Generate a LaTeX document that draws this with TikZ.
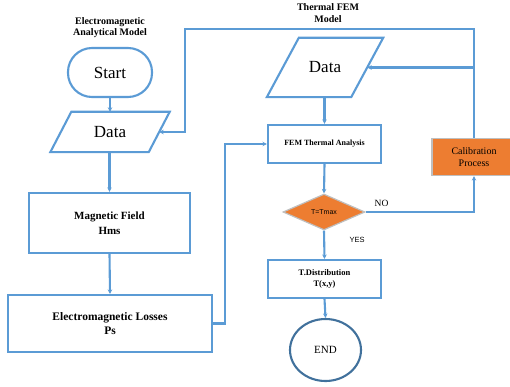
\documentclass[tikz,border=0pt]{standalone}
\usepackage{fontspec}
\setmainfont{Liberation Serif}
\newfontfamily\arialf{Liberation Sans}
\usetikzlibrary{shapes.geometric,arrows.meta,calc}
\definecolor{lineblue}{HTML}{5B9BD5}
\definecolor{darkblue}{HTML}{41719C}
\definecolor{orangef}{HTML}{ED7D31}
\definecolor{edgegray}{HTML}{BFBFBF}
\tikzset{
  conn/.style={draw=lineblue, line width=2.1pt},
  arr/.style={conn, -{Stealth[length=4.5pt,width=4.5pt]}},
  boxn/.style={draw=lineblue, line width=2.1pt, rectangle, fill=white, align=center, inner sep=1pt},
  datan/.style={rectangle, inner sep=0pt, font=\fontsize{17}{20}\selectfont},
  paral/.style={draw=lineblue, line width=2.1pt, fill=white, line join=miter},
  orangebox/.style={draw=edgegray, line width=1.2pt, fill=orangef, align=center},
  titlen/.style={align=center, font=\bfseries\fontsize{10}{11.5}\selectfont},
}
\begin{document}
\begin{tikzpicture}[x=1pt,y=-1pt]
\useasboundingbox (0,0) rectangle (510,387);
\clip (0,0) rectangle (510,387);
% titles
\node[titlen] (t1) at (110,27.5) {Electromagnetic\\Analytical Model};
\node[titlen] (t2) at (328,13) {Thermal FEM\\Model};
% left column
\node[draw=lineblue, line width=2.1pt, rounded corners=24pt, minimum width=84pt, minimum height=49pt,
  font=\fontsize{17}{20}\selectfont] (start) at (110,72.5) {Start};
\node[datan, minimum width=119pt, minimum height=40pt] (data1) at (110,132) {};
\draw[paral] (data1.south west) -- ($(data1.south east)+(-21,0)$) -- (data1.north east)
  -- ($(data1.north west)+(21,0)$) -- cycle;
\node[datan] at (data1.center) {Data};
\node[boxn, minimum width=161pt, minimum height=60pt, font=\bfseries\fontsize{11}{14.5}\selectfont] (mag) at (109.5,223) {Magnetic Field\\Hms};
\node[boxn, minimum width=204pt, minimum height=57pt, font=\bfseries\fontsize{11.5}{14.5}\selectfont] (loss) at (110,323.5) {Electromagnetic Losses\\Ps};
% right column
\node[datan, minimum width=116pt, minimum height=59pt] (data2) at (325,67.5) {};
\draw[paral] (data2.south west) -- ($(data2.south east)+(-32,0)$) -- (data2.north east)
  -- ($(data2.north west)+(32,0)$) -- cycle;
\node[datan] at (data2.center) {Data};
\node[boxn, minimum width=113pt, minimum height=38pt, font=\bfseries\fontsize{8}{10}\selectfont] (fem) at (324.5,144) {FEM Thermal Analysis};
\node[diamond, draw=edgegray, line width=1.2pt, fill=orangef, minimum width=82pt, minimum height=36pt, inner sep=0pt,
  font=\arialf\fontsize{7}{8}\selectfont] (dia) at (324,212) {T=Tmax};
\node[boxn, minimum width=113pt, minimum height=38pt, font=\bfseries\fontsize{8.5}{11}\selectfont] (tdist) at (324.5,279) {T.Distribution\\T(x,y)};
\node[ellipse, draw=darkblue, line width=2.1pt, minimum width=71pt, minimum height=62pt, fill=white,
  font=\fontsize{11}{13}\selectfont] (endc) at (325.5,350) {END};
\node[orangebox, minimum width=84pt, minimum height=37pt, font=\fontsize{10}{12}\selectfont] (cal) at (474,157) {Calibration\\Process};
% labels
\node[font=\fontsize{9.5}{11}\selectfont] (no) at (381.5,203) {NO};
\node[font=\arialf\fontsize{7.5}{9}\selectfont] (yes) at (357,240) {YES};
% coordinates
\coordinate (tr) at (474,29);
\coordinate (tl) at (185,29);
\coordinate (lj) at (225,323.5);
\coordinate (d1e) at ($(data1.east)+(-10.5,0)$);
\coordinate (d2e) at ($(data2.east)+(-16,0)$);
% connectors
\draw[arr] (start.south) -- (start.south |- data1.north);
\draw[arr] (mag.north |- data1.south) -- (mag.north);
\draw[arr] (mag.south) -- (loss.north);
\draw[arr] (loss.east) -- (lj) |- (fem.west);
\draw[arr] (fem.north |- data2.south) -- (fem.north);
\draw[arr] (fem.south) -- (dia.north);
\draw[arr] (dia.south) -- (tdist.north);
\draw[arr] (tdist.south) -- (endc.north);
\draw[arr] (dia.east) -| (cal.south);
\draw[arr] (cal.north) -- (tr) -- (tl) |- (d1e);
\draw[arr] (cal.north |- d2e) -- (d2e);
\end{tikzpicture}
\end{document}
